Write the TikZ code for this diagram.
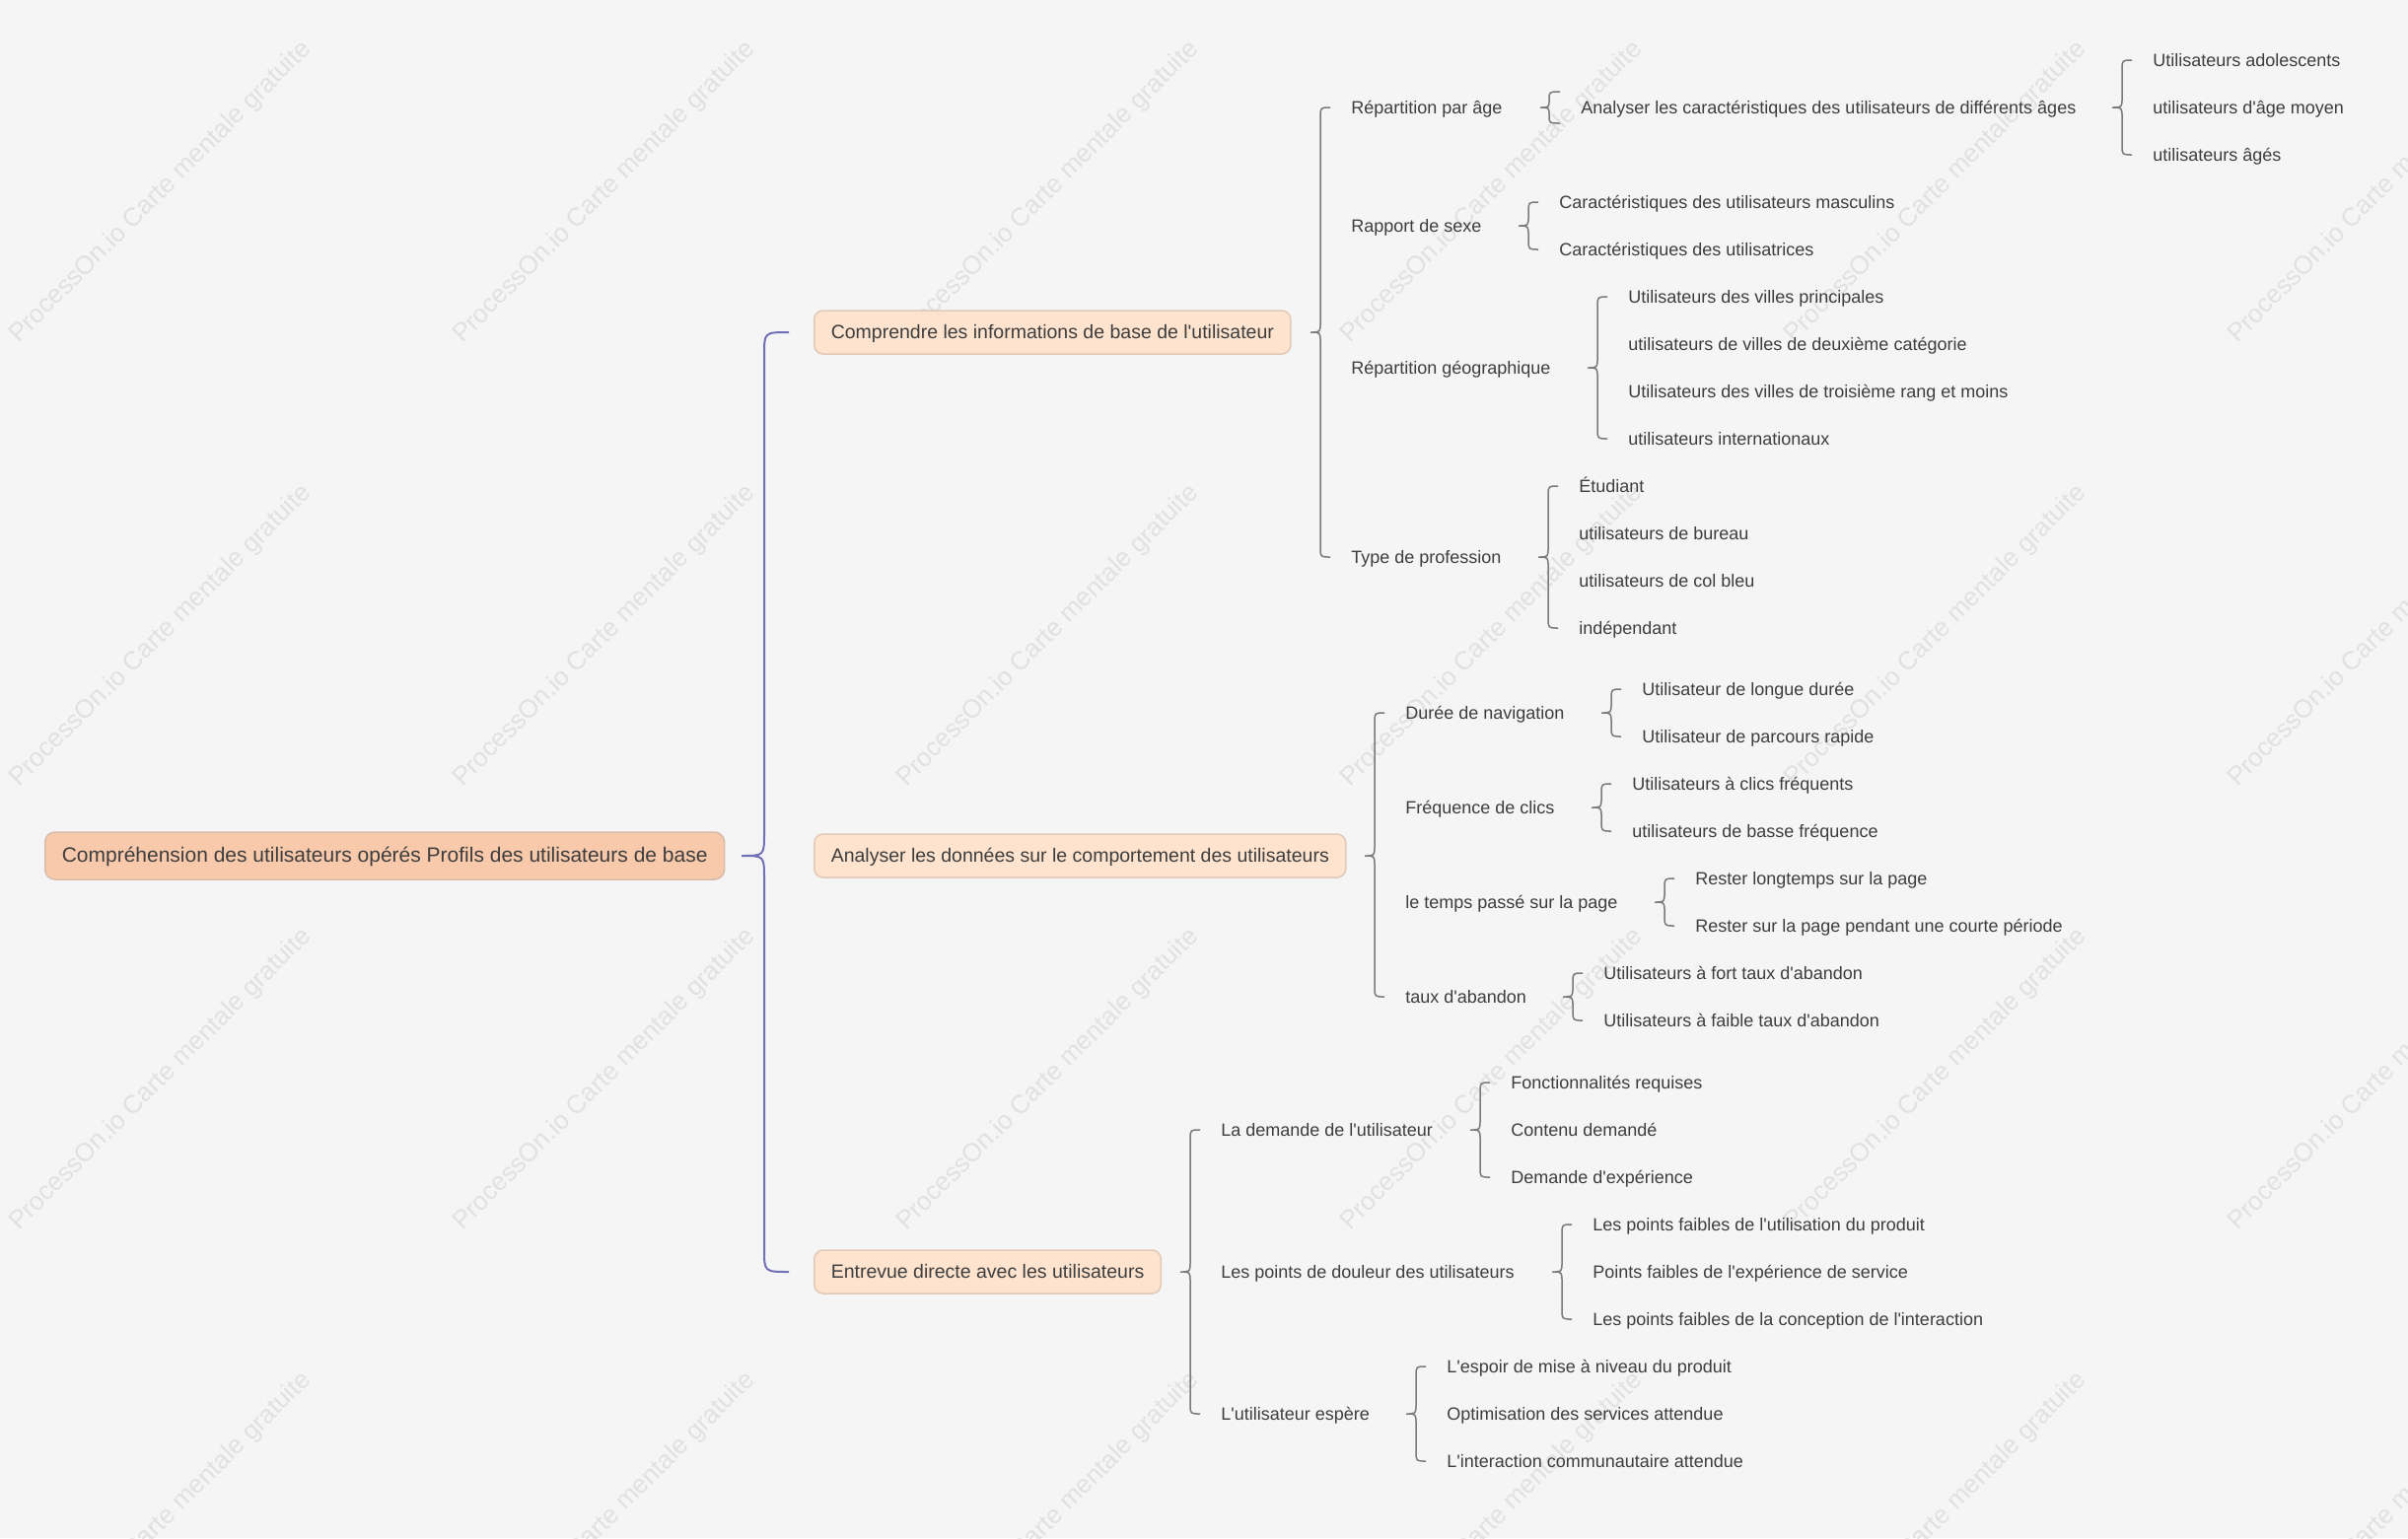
\documentclass[tikz,border=0pt]{standalone}
\usepackage{fontspec}
\newfontfamily\lib{Liberation Sans}
\usetikzlibrary{calc}
\definecolor{bg}{HTML}{F5F5F5}
\definecolor{txt}{HTML}{3D3D3D}
\definecolor{rootfill}{HTML}{F8C9AB}
\definecolor{rootdraw}{HTML}{D8BCA8}
\definecolor{lonefill}{HTML}{FEE3CE}
\definecolor{lonedraw}{HTML}{E2C8B6}
\definecolor{purp}{HTML}{7470B8}
\definecolor{lgray}{HTML}{7A7A7A}
\definecolor{wm}{HTML}{E1E1E1}
\newcommand{\mmbr}[3]{%
 \draw[brc] let \p1=(#1.east), \p2=(#2.west), \p3=(#3.west) in
  (\x2-10.5pt,\y2) .. controls (\x2-15.5pt,\y2) .. (\x2-15.5pt,\y2-5pt)
  -- (\x2-15.5pt,\y1+5pt) .. controls (\x2-15.5pt,\y1) .. (\x2-20.5pt,\y1)
  .. controls (\x2-15.5pt,\y1) .. (\x2-15.5pt,\y1-5pt)
  -- (\x2-15.5pt,\y3+5pt) .. controls (\x2-15.5pt,\y3) .. (\x2-10.5pt,\y3);}
\newcommand{\mmbrs}[2]{%
 \draw[brc] let \p1=(#1.east), \p2=(#2.west) in
  (\x2-10.5pt,\y2+8pt) .. controls (\x2-16pt,\y2+8pt) .. (\x2-16pt,\y2+4pt)
  .. controls (\x2-16pt,\y2) .. (\x2-20.5pt,\y2)
  .. controls (\x2-16pt,\y2) .. (\x2-16pt,\y2-4pt)
  .. controls (\x2-16pt,\y2-8pt) .. (\x2-10.5pt,\y2-8pt);}
\begin{document}
\begin{tikzpicture}[x=0.5pt,y=0.5pt,
  rootbox/.style={draw=rootdraw, fill=rootfill, line width=0.75pt, rounded corners=5pt, anchor=west, inner xsep=8.5pt, inner ysep=0pt, minimum height=24pt, font=\lib\fontsize{10.5pt}{12pt}\selectfont, text=txt, text height=0.9em, text depth=0.21em},
  lonebox/.style={draw=lonedraw, fill=lonefill, line width=0.75pt, rounded corners=4.5pt, anchor=west, inner xsep=8.5pt, inner ysep=0pt, minimum height=22pt, font=\lib\fontsize{9.75pt}{12pt}\selectfont, text=txt, text height=0.9em, text depth=0.21em},
  leaf/.style={anchor=west, inner sep=0pt, font=\lib\fontsize{9pt}{11pt}\selectfont, text=txt, text height=0.9em, text depth=0.21em},
  brc/.style={draw=lgray, line width=0.75pt},
  rbrc/.style={draw=purp, line width=1pt},
  wmark/.style={rotate=45, text=wm, font=\lib\fontsize{13pt}{15pt}\selectfont, inner sep=0pt}
]
\useasboundingbox (0,0) rectangle (2442,-1560);
\fill[bg] (0,0) rectangle (2442,-1560);
\begin{scope}
\clip (0,0) rectangle (2442,-1560);
\foreach \i in {0,...,5} {
  \foreach \j in {0,...,3} {
    \node[wmark] (wm\i\j) at (163+450*\i,-195-450*\j) {ProcessOn.io Carte mentale gratuite};
  }
}
\end{scope}

% root and level 1
\node[rootbox] (root) at (45,-868) {Compréhension des utilisateurs opérés Profils des utilisateurs de base};
\node[lonebox] (La) at (825,-337) {Comprendre les informations de base de l'utilisateur};
\node[lonebox] (Lb) at (825,-868) {Analyser les données sur le comportement des utilisateurs};
\node[lonebox] (Lc) at (825,-1290) {Entrevue directe avec les utilisateurs};

% level 2
\node[leaf] (A1) at (1370,-109) {Répartition par âge};
\node[leaf] (A2) at (1370,-229) {Rapport de sexe};
\node[leaf] (A3) at (1370,-373) {Répartition géographique};
\node[leaf] (A4) at (1370,-565) {Type de profession};
\node[leaf] (B1) at (1425,-723) {Durée de navigation};
\node[leaf] (B2) at (1425,-819) {Fréquence de clics};
\node[leaf] (B3) at (1425,-915) {le temps passé sur la page};
\node[leaf] (B4) at (1425,-1011) {taux d'abandon};
\node[leaf] (C1) at (1238,-1146) {La demande de l'utilisateur};
\node[leaf] (C2) at (1238,-1290) {Les points de douleur des utilisateurs};
\node[leaf] (C3) at (1238,-1434) {L'utilisateur espère};

% level 3
\node[leaf] (A11) at (1603,-109) {Analyser les caractéristiques des utilisateurs de différents âges};
\node[leaf] (A111) at (2183,-61) {Utilisateurs adolescents};
\node[leaf] (A112) at (2183,-109) {utilisateurs d'âge moyen};
\node[leaf] (A113) at (2183,-157) {utilisateurs âgés};
\node[leaf] (A21) at (1581,-205) {Caractéristiques des utilisateurs masculins};
\node[leaf] (A22) at (1581,-253) {Caractéristiques des utilisatrices};
\node[leaf] (A31) at (1651,-301) {Utilisateurs des villes principales};
\node[leaf] (A32) at (1651,-349) {utilisateurs de villes de deuxième catégorie};
\node[leaf] (A33) at (1651,-397) {Utilisateurs des villes de troisième rang et moins};
\node[leaf] (A34) at (1651,-445) {utilisateurs internationaux};
\node[leaf] (A41) at (1601,-493) {Étudiant};
\node[leaf] (A42) at (1601,-541) {utilisateurs de bureau};
\node[leaf] (A43) at (1601,-589) {utilisateurs de col bleu};
\node[leaf] (A44) at (1601,-637) {indépendant};
\node[leaf] (B11) at (1665,-699) {Utilisateur de longue durée};
\node[leaf] (B12) at (1665,-747) {Utilisateur de parcours rapide};
\node[leaf] (B21) at (1655,-795) {Utilisateurs à clics fréquents};
\node[leaf] (B22) at (1655,-843) {utilisateurs de basse fréquence};
\node[leaf] (B31) at (1719,-891) {Rester longtemps sur la page};
\node[leaf] (B32) at (1719,-939) {Rester sur la page pendant une courte période};
\node[leaf] (B41) at (1626,-987) {Utilisateurs à fort taux d'abandon};
\node[leaf] (B42) at (1626,-1035) {Utilisateurs à faible taux d'abandon};
\node[leaf] (C11) at (1532,-1098) {Fonctionnalités requises};
\node[leaf] (C12) at (1532,-1146) {Contenu demandé};
\node[leaf] (C13) at (1532,-1194) {Demande d'expérience};
\node[leaf] (C21) at (1615,-1242) {Les points faibles de l'utilisation du produit};
\node[leaf] (C22) at (1615,-1290) {Points faibles de l'expérience de service};
\node[leaf] (C23) at (1615,-1338) {Les points faibles de la conception de l'interaction};
\node[leaf] (C31) at (1467,-1386) {L'espoir de mise à niveau du produit};
\node[leaf] (C32) at (1467,-1434) {Optimisation des services attendue};
\node[leaf] (C33) at (1467,-1482) {L'interaction communautaire attendue};

% root brace
\draw[rbrc] let \p1=(root.east), \p2=(La.west), \p3=(Lc.west) in
  (\x2-12.5pt,\y2) .. controls (\x2-25pt,\y2) .. (\x2-25pt,\y2-11.5pt)
  -- (\x2-25pt,\y1+11.5pt) .. controls (\x2-25pt,\y1) .. (\x2-36.5pt,\y1)
  .. controls (\x2-25pt,\y1) .. (\x2-25pt,\y1-11.5pt)
  -- (\x2-25pt,\y3+11.5pt) .. controls (\x2-25pt,\y3) .. (\x2-12.5pt,\y3);

% level braces
\mmbr{La}{A1}{A4}
\mmbr{Lb}{B1}{B4}
\mmbr{Lc}{C1}{C3}
\mmbrs{A1}{A11}
\mmbr{A11}{A111}{A113}
\mmbr{A2}{A21}{A22}
\mmbr{A3}{A31}{A34}
\mmbr{A4}{A41}{A44}
\mmbr{B1}{B11}{B12}
\mmbr{B2}{B21}{B22}
\mmbr{B3}{B31}{B32}
\mmbr{B4}{B41}{B42}
\mmbr{C1}{C11}{C13}
\mmbr{C2}{C21}{C23}
\mmbr{C3}{C31}{C33}
\end{tikzpicture}
\end{document}
